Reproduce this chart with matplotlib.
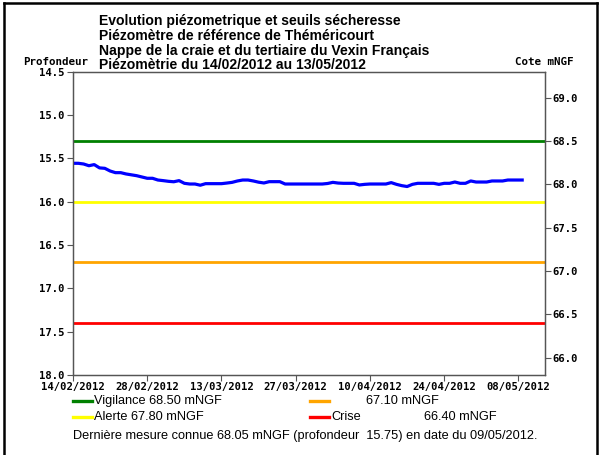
import matplotlib
matplotlib.use("Agg")
import matplotlib.pyplot as plt
import numpy as np
import datetime as dt
from matplotlib.lines import Line2D

# ---- data ----
start_date = "2012-02-14"
end_date = "2012-05-13"
depth = [15.557, 15.557, 15.565, 15.585, 15.572, 15.61, 15.615, 15.646, 15.665, 15.665,
         15.68, 15.69, 15.70, 15.715, 15.73, 15.73, 15.75, 15.757, 15.765, 15.77,
         15.757, 15.788, 15.796, 15.796, 15.81, 15.792, 15.792, 15.792, 15.792, 15.785,
         15.777, 15.761, 15.75, 15.75, 15.761, 15.775, 15.784, 15.769, 15.769, 15.769,
         15.796, 15.796, 15.796, 15.796, 15.796, 15.796, 15.796, 15.796, 15.79, 15.777,
         15.785, 15.788, 15.788, 15.788, 15.807, 15.80, 15.796, 15.796, 15.796, 15.796,
         15.78, 15.80, 15.815, 15.825, 15.80, 15.788, 15.788, 15.788, 15.788, 15.80,
         15.788, 15.788, 15.773, 15.788, 15.788, 15.761, 15.773, 15.773, 15.773, 15.761,
         15.761, 15.761, 15.75, 15.75, 15.75, 15.75]
ref_level = 83.8  # cote = ref_level - depth
threshold_names = ["Vigilance", "", "Alerte", "Crise"]
threshold_cotes = [68.50, 67.10, 67.80, 66.40]
threshold_colors = ["#008000", "#ffa500", "#ffff00", "#ff0000"]
x_ticks = ["14/02/2012", "28/02/2012", "13/03/2012", "27/03/2012",
           "10/04/2012", "24/04/2012", "08/05/2012"]
left_ticks = [14.5, 15.0, 15.5, 16.0, 16.5, 17.0, 17.5, 18.0]
right_ticks = [66.0, 66.5, 67.0, 67.5, 68.0, 68.5, 69.0]
title_lines = ["Evolution piézometrique et seuils sécheresse",
               "Piézomètre de référence de Théméricourt",
               "Nappe de la craie et du tertiaire du Vexin Français",
               "Piézomètrie du 14/02/2012 au 13/05/2012"]
last_text = "Dernière mesure connue 68.05 mNGF (profondeur  15.75) en date du 09/05/2012."

W, H = 599, 455
fig = plt.figure(figsize=(W / 100, H / 100), dpi=100)
fig.patch.set_facecolor("white")

def fx(px):
    return px / W

def fy(py):
    return 1 - py / H

ax_left, ax_right, ax_top, ax_bot = 73, 545, 71.7, 375
ax = fig.add_axes([fx(ax_left), fy(ax_bot), fx(ax_right - ax_left), (ax_bot - ax_top) / H])

d0 = dt.datetime.strptime(start_date, "%Y-%m-%d")
d1 = dt.datetime.strptime(end_date, "%Y-%m-%d")
dates = [d0 + dt.timedelta(days=i) for i in range(len(depth))]

mono = dict(family="DejaVu Sans Mono", fontweight="bold", fontsize=7.6)
axcol = "#555555"

for c, col in zip(threshold_cotes, threshold_colors):
    ax.axhline(ref_level - c, color=col, lw=2.0, zorder=2)
ax.plot(dates, depth, color="#0000ff", lw=2.3, zorder=3, solid_capstyle="butt")

ax.set_xlim(d0, d1)
ax.set_ylim(18.0, 14.5)
ax.set_yticks(left_ticks)
ax.set_yticklabels([f"{v:.1f}" for v in left_ticks], **mono)
tick_dates = [dt.datetime.strptime(t, "%d/%m/%Y") for t in x_ticks]
ax.set_xticks(tick_dates)
ax.set_xticklabels(x_ticks, **mono)
ax.tick_params(axis="both", length=4, width=0.8, color=axcol, pad=2)
ax.tick_params(axis="x", pad=1)
for s in ax.spines.values():
    s.set_color(axcol)
    s.set_linewidth(0.9)

ax2 = ax.twinx()
ax2.set_ylim(ref_level - 18.0, ref_level - 14.5)
ax2.set_yticks(right_ticks)
ax2.set_yticklabels([f"{v:.1f}" for v in right_ticks], **mono)
ax2.tick_params(axis="y", length=4, width=0.8, color=axcol, pad=1)
for s in ax2.spines.values():
    s.set_color(axcol)
    s.set_linewidth(0.9)

# axis titles
fig.text(fx(23), fy(62), "Profondeur", ha="left", va="center",
         family="DejaVu Sans Mono", fontweight="bold", fontsize=7.8)
fig.text(fx(515), fy(62), "Cote mNGF", ha="left", va="center",
         family="DejaVu Sans Mono", fontweight="bold", fontsize=7.8)

# title
ys = [21, 36, 51, 65]
for t, y in zip(title_lines, ys):
    fig.text(fx(99), fy(y), t, ha="left", va="center",
             family="Liberation Sans", fontweight="bold", fontsize=10.1)

# legend
sans = dict(family="Liberation Sans", fontsize=9.2)
leg_rows = [401, 401, 417, 417]
leg_sample_x = [73, 310, 73, 310]
leg_texts = ["Vigilance 68.50 mNGF", "", "Alerte 67.80 mNGF", "Crise"]
for (sx, y, col, txt) in zip(leg_sample_x, leg_rows, threshold_colors, leg_texts):
    fig.add_artist(Line2D([fx(sx), fx(sx + 19)], [fy(y), fy(y)], color=col, lw=2.4,
                          transform=fig.transFigure))
    if txt:
        fig.text(fx(sx + 21), fy(y), txt, ha="left", va="center", **sans)
fig.text(fx(366), fy(401), f"{threshold_cotes[1]:.2f} mNGF", ha="left", va="center", **sans)
fig.text(fx(424), fy(417), f"{threshold_cotes[3]:.2f} mNGF", ha="left", va="center", **sans)
fig.text(fx(73), fy(436), last_text, ha="left", va="center", **sans)

# outer frame
for xs, yv in [([4, 4], [3, H]), ([4, 597], [3, 3]), ([597, 597], [3, H])]:
    fig.add_artist(Line2D([fx(v) for v in xs], [fy(v) for v in yv], color="black", lw=1.8,
                          transform=fig.transFigure))

fig.savefig("out.png", dpi=100, facecolor="white")
